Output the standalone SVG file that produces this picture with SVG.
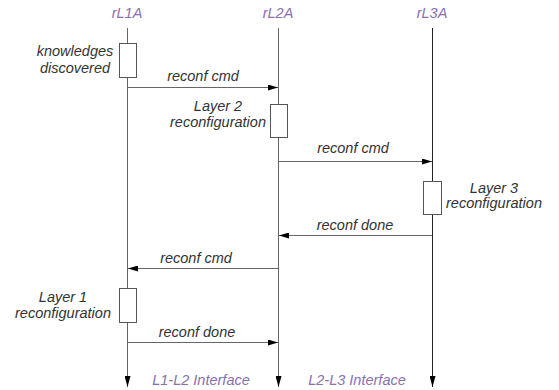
<svg xmlns="http://www.w3.org/2000/svg" width="559" height="390" viewBox="0 0 559 390">
<style>
text{font-family:"Liberation Sans",Arial,sans-serif;font-style:italic;font-size:14.5px;fill:#333}
.hd{fill:#8a70b0}
.life{stroke:#666;stroke-width:1;fill:none}
.life3{stroke:#222;stroke-width:1;fill:none}
.act{fill:#fff;stroke:#555;stroke-width:1}
.msg{stroke:#666;stroke-width:1;fill:none;marker-end:url(#ah)}
</style>
<defs>
<marker id="ah" viewBox="0 0 10 6" refX="10" refY="3" markerWidth="10" markerHeight="6" markerUnits="userSpaceOnUse" orient="auto">
<path d="M0,0 L10,3 L0,6 Z" fill="#000"/>
</marker>
<marker id="ahd" viewBox="0 0 6 11" refX="3" refY="11" markerWidth="6" markerHeight="11" markerUnits="userSpaceOnUse" orient="0">
<path d="M0,0 L6,0 L3,11 Z" fill="#000"/>
</marker>
</defs>
<g id="rL1A">
<text class="hd" x="127" y="18" text-anchor="middle">rL1A</text>
<line class="life" x1="127.5" y1="28" x2="127.5" y2="387" marker-end="url(#ahd)"/>
</g>
<g id="rL2A">
<text class="hd" x="278" y="18" text-anchor="middle">rL2A</text>
<line class="life" x1="278.5" y1="28" x2="278.5" y2="387" marker-end="url(#ahd)"/>
</g>
<g id="rL3A">
<text class="hd" x="432" y="18" text-anchor="middle">rL3A</text>
<line class="life3" x1="432.5" y1="28" x2="432.5" y2="387" marker-end="url(#ahd)"/>
</g>
<g id="act-knowledges">
<rect class="act" x="119.5" y="43.5" width="17" height="34"/>
<text x="75" y="56" text-anchor="middle">knowledges</text>
<text x="75" y="73" text-anchor="middle">discovered</text>
</g>
<g id="act-layer2">
<rect class="act" x="270.5" y="104.5" width="17" height="33"/>
<text x="218" y="111" text-anchor="middle">Layer 2</text>
<text x="218" y="127" text-anchor="middle">reconfiguration</text>
</g>
<g id="act-layer3">
<rect class="act" x="423.5" y="181.5" width="18" height="33"/>
<text x="494" y="193" text-anchor="middle">Layer 3</text>
<text x="494" y="208" text-anchor="middle">reconfiguration</text>
</g>
<g id="act-layer1">
<rect class="act" x="119.5" y="288.5" width="17" height="34"/>
<text x="63" y="302" text-anchor="middle">Layer 1</text>
<text x="63" y="318" text-anchor="middle">reconfiguration</text>
</g>
<g id="connectors">
<line class="msg" x1="128" y1="87.5" x2="278" y2="87.5"/>
<text x="203" y="81" text-anchor="middle">reconf cmd</text>
<line class="msg" x1="279" y1="161.5" x2="432" y2="161.5"/>
<text x="353" y="153" text-anchor="middle">reconf cmd</text>
<line class="msg" x1="432" y1="235.5" x2="279" y2="235.5"/>
<text x="355" y="230" text-anchor="middle">reconf done</text>
<line class="msg" x1="278" y1="268.5" x2="128" y2="268.5"/>
<text x="196" y="263" text-anchor="middle">reconf cmd</text>
<line class="msg" x1="128" y1="342.5" x2="278" y2="342.5"/>
<text x="197" y="337" text-anchor="middle">reconf done</text>
</g>
<g id="interfaces">
<text class="hd" x="201" y="385" text-anchor="middle">L1-L2 Interface</text>
<text class="hd" x="357" y="385" text-anchor="middle">L2-L3 Interface</text>
</g>
</svg>
